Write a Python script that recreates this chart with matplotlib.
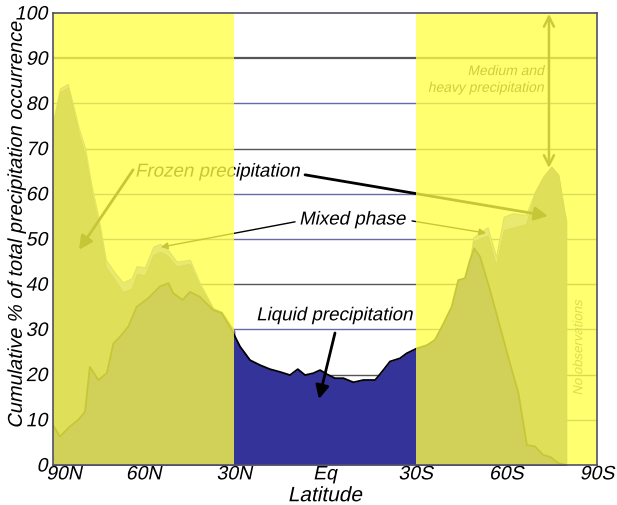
import numpy as np
import matplotlib.pyplot as plt
import matplotlib.transforms as mtransforms
import matplotlib.patheffects as pe

plt.rcParams['font.family'] = ['Liberation Sans', 'DejaVu Sans']


class Slant(pe.AbstractPathEffect):
    """Draw text glyphs with an oblique shear (fake italic)."""

    def draw_path(self, renderer, gc, tpath, affine, rgbFace=None):
        skew = mtransforms.Affine2D().skew_deg(12, 0)
        renderer.draw_path(gc, tpath, skew + affine, rgbFace)


ITALIC = [Slant()]

# latitude in degrees (positive = north), values in cumulative %
liquid_lat = [90, 87.7, 84.4, 81.6, 79.4, 77.8, 75.0, 72.2, 70.0, 67.8, 65.1,
              62.3, 58.5, 54.6, 51.8, 50.2, 47.1, 44.7, 41.4, 37.0, 34.2, 30.9,
              28.1, 24.8, 21.5, 18.2, 14.9, 11.6, 9.0, 6.6, 3.9, 1.6, -0.6,
              -3.3, -6.1, -9.4, -12.7, -16.6, -19.3, -21.5, -24.8, -27.0, -30.4,
              -33.7, -36.4, -39.2, -41.9, -44.1, -46.3, -48.0, -49.4, -51.3,
              -54.6, -57.9, -61.2, -64.0, -66.8, -69.5, -72.2, -74.5, -77.2, -79.8]
liquid = [8.8, 6.3, 8.5, 10.0, 11.8, 21.7, 18.8, 20.3, 26.9, 28.4, 30.6,
          35.0, 36.9, 39.5, 40.2, 38.0, 36.5, 38.3, 37.2, 34.3, 33.6, 29.9,
          26.2, 23.2, 22.1, 21.2, 20.6, 19.9, 21.2, 19.9, 20.3, 21.0, 20.1,
          19.2, 19.2, 18.3, 18.8, 18.8, 21.0, 22.9, 23.6, 24.7, 25.8,
          26.5, 27.7, 31.3, 35.0, 40.9, 41.3, 45.4, 47.9, 46.1,
          38.7, 30.6, 22.5, 15.9, 4.4, 4.1, 2.2, 1.8, 0.4, 0.0]

# northern polar band
lat_n = [90, 87.7, 85.1, 83.8, 81.6, 79.4, 77.2, 75.0, 72.5, 69.5, 66.9, 64.0,
         62.3, 59.6, 56.8, 54.6, 52.4, 49.1, 44.7, 41.4, 37.0, 34.2, 30.0]
frozen_n = [75.5, 82.5, 83.5, 79.8, 73.5, 68.5, 60.0, 53.5, 43.8, 41.0, 38.3, 39.0,
            42.3, 42.0, 46.5, 47.2, 46.5, 44.0, 44.5, 39.5, 34.5, 33.8, 29.6]
mixed_n = [76.0, 83.3, 84.3, 80.8, 74.8, 70.1, 61.6, 54.9, 45.4, 42.5, 40.4, 41.3,
           44.0, 43.7, 48.3, 48.9, 48.0, 45.0, 45.4, 40.2, 34.7, 33.9, 29.6]

# southern polar band
lat_s = [-30.0, -33.7, -36.4, -39.2, -41.9, -44.1, -46.3, -48.0, -49.1, -51.6,
         -53.8, -56.6, -59.1, -62.1, -66.5, -69.5, -72.2, -74.9, -77.2, -79.4, -79.8]
frozen_s = [25.8, 26.5, 27.7, 31.3, 35.0, 40.9, 41.3, 45.4, 49.5, 50.2,
            50.8, 44.2, 52.0, 52.5, 53.3, 60.3, 63.8, 66.0, 64.2, 55.3, 54.0]
mixed_s = [25.8, 26.5, 27.7, 31.3, 35.0, 40.9, 41.3, 45.4, 50.4, 51.6,
           52.6, 46.1, 54.9, 55.7, 55.3, 60.5, 63.8, 66.0, 64.2, 55.3, 54.0]

xticks = [90, 60, 30, 0, -30, -60, -90]
xticklabels = ['90N', '60N', '30N', 'Eq', '30S', '60S', '90S']
yticks = list(range(0, 101, 10))

fig = plt.figure(figsize=(6.17, 5.05), dpi=100)
ax = fig.add_axes([53 / 617, 40 / 505, 544 / 617, 452 / 505])

# gridlines (alternating dark / blue like the original)
grid_colors = {10: '#6a6aaa', 20: '#555555', 30: '#6a6aaa', 40: '#555555',
               50: '#6a6aaa', 60: '#6a6aaa', 70: '#555555', 80: '#6a6aaa',
               90: '#555555'}
for yv, c in grid_colors.items():
    ax.axhline(yv, color=c, lw=1.6 if yv == 90 else 1.0, zorder=0.5)

# stacked layers, drawn top-down so each cumulative curve covers the next
mix_c = '#a0a0ff'
frz_c = '#72729b'
for lat, mix, frz in [(lat_n, mixed_n, frozen_n), (lat_s, mixed_s, frozen_s)]:
    ax.fill_between(lat, 0, mix, color=mix_c, lw=0.8, edgecolor='#8080b0', zorder=1.1)
    ax.fill_between(lat, 0, frz, color=frz_c, lw=0.6, edgecolor='#606090', zorder=1.2)
ax.fill_between(liquid_lat, 0, liquid, color='#333399', lw=0, zorder=1.3)
ax.plot(liquid_lat, liquid, color='black', lw=1.3, zorder=1.4)

# annotations
txt_kw = dict(fontsize=13.5, color='black', zorder=3, va='center',
              path_effects=ITALIC)
ax.text(62.9, 64.8, 'Frozen precipitation', ha='left', **txt_kw)
ax.text(8.6, 54.2, 'Mixed phase', ha='left', **txt_kw)
ax.text(22.8, 33.0, 'Liquid precipitation', ha='left', **txt_kw)
ax.text(-72.5, 85.3, 'Medium and\nheavy precipitation', ha='right', va='center',
        fontsize=10, color='#222222', linespacing=1.25, zorder=3,
        path_effects=ITALIC)
ax.text(-84.1, 25.9, 'No observations', rotation=90, ha='center', va='center',
        fontsize=9.5, color='#666666', zorder=3, path_effects=ITALIC)

thick = dict(arrowstyle='-|>', lw=2, color='black', mutation_scale=20,
             shrinkA=0, shrinkB=0)
thin = dict(arrowstyle='-|>', lw=1, color='black', mutation_scale=10,
            shrinkA=0, shrinkB=0)
ax.annotate('', xy=(81.4, 47.6), xytext=(63.5, 65.3), arrowprops=thick, zorder=3)
ax.annotate('', xy=(-73.8, 55.1), xytext=(6.6, 64.2), arrowprops=thick, zorder=3)
ax.annotate('', xy=(54.3, 48.2), xytext=(9.9, 53.8), arrowprops=thin, zorder=3)
ax.annotate('', xy=(-53.3, 51.3), xytext=(-28.8, 54.0), arrowprops=thin, zorder=3)
ax.annotate('', xy=(2.0, 14.6), xytext=(-3.3, 29.2), arrowprops=thick, zorder=3)
ax.annotate('', xy=(-74.1, 65.7), xytext=(-74.1, 99.8),
            arrowprops=dict(arrowstyle='<->', lw=1.8, color='#111111',
                            mutation_scale=18, shrinkA=0, shrinkB=0), zorder=3)

# translucent yellow highlight over the polar bands
overlay = (1.0, 1.0, 72 / 255)
ax.axvspan(90, 30, color=overlay, alpha=0.78, lw=0, zorder=4)
ax.axvspan(-30, -90, color=overlay, alpha=0.78, lw=0, zorder=4)

ax.set_xlim(90, -90)
ax.set_ylim(0, 100)
ax.set_xticks(xticks)
ax.set_xticklabels(xticklabels, fontsize=14)
ax.set_yticks(yticks)
ax.set_yticklabels([str(v) for v in yticks], fontsize=14)
ax.tick_params(axis='both', length=0)
ax.tick_params(axis='y', pad=4)
ax.tick_params(axis='x', pad=1)
for lab in ax.get_xticklabels() + ax.get_yticklabels():
    lab.set_path_effects(ITALIC)

shift = mtransforms.ScaledTranslation(0.11, 0, fig.dpi_scale_trans)
first = ax.get_xticklabels()[0]
first.set_transform(first.get_transform() + shift)

for s in ax.spines.values():
    s.set_color('#50506a')
    s.set_linewidth(1.2)
    s.set_zorder(10)

ax.set_xlabel('Latitude', fontsize=15, path_effects=ITALIC)
ax.xaxis.set_label_coords(0.5, -0.047)
ax.set_ylabel('Cumulative % of total precipitation occurrence', fontsize=14.4,
              path_effects=ITALIC)
ax.yaxis.set_label_coords(-0.05, 0.53)

fig.savefig('out.png', dpi=100)
